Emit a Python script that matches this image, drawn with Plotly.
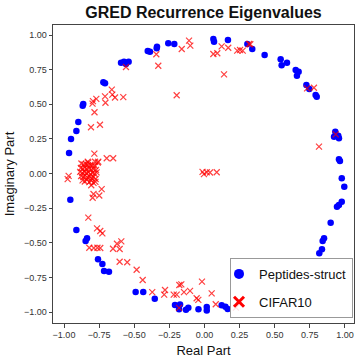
import plotly.graph_objects as go

# Peptides-struct eigenvalues (real, imaginary)
pep_real = [-0.258, -0.215, -0.338, -0.340, -0.404, -0.388, -0.594, -0.573, -0.540, -0.559,
            -0.720, -0.708, -0.863, -0.867, -0.898, -0.912, -0.950, -0.964,
            0.063, 0.068, 0.167, 0.305, 0.340, 0.428, 0.542, 0.549, 0.587, 0.649, 0.670, 0.658,
            0.725, 0.746, 0.791, 0.799, 0.931, 0.922, 0.957, 0.952, 0.957, 0.964,
            0.977, 0.995, 0.977, 0.957, 0.943, 0.898, 0.851, 0.841, 0.836, 0.817,
            -0.955, -0.912, -0.836, -0.846, -0.758, -0.727, -0.715, -0.680,
            -0.490, -0.436, -0.354, -0.210, -0.174, -0.181, -0.132, -0.115, -0.043,
            0.016, 0.016, 0.122, 0.149, 0.165]
pep_imag = [0.940, 0.935, 0.916, 0.904, 0.884, 0.879, 0.800, 0.807, 0.807, 0.791,
            0.658, 0.651, 0.502, 0.490, 0.372, 0.307, 0.249, 0.148,
            0.971, 0.952, 0.964, 0.935, 0.899, 0.856, 0.825, 0.781, 0.800, 0.747, 0.735, 0.706,
            0.639, 0.610, 0.567, 0.555, 0.302, 0.266, 0.254, 0.273, 0.103, 0.090,
            -0.035, -0.095, -0.204, -0.227, -0.240, -0.355, -0.468, -0.487, -0.547, -0.576,
            -0.189, -0.408, -0.468, -0.487, -0.619, -0.653, -0.704, -0.709,
            -0.856, -0.856, -0.904, -0.949, -0.946, -0.981, -0.983, -0.969, -0.981,
            -0.964, -0.989, -0.952, -0.962, -0.978]

# CIFAR10 eigenvalues (real, imaginary)
cif_real = [-0.110, -0.101, -0.162, -0.343, -0.329, -0.559, -0.198, -0.660, -0.656, -0.637,
            -0.578, -0.708, -0.705, -0.770, -0.794, -0.797, -0.783, -0.808, -0.744, -0.784,
            -0.696, -0.650, -0.756, -0.779, -0.831, -0.827, -0.760,
            0.063, 0.091, 0.122, 0.169, 0.233, 0.253, 0.272, 0.317, 0.326, 0.139, 0.730, 0.779,
            0.934, 0.815,
            -0.014, -0.004, 0.016, 0.039, 0.087,
            -0.967, -0.974, -0.806, -0.732, -0.790, -0.749, -0.796, -0.827, -0.765, -0.742,
            -0.727, -0.820, -0.788, -0.762, -0.742, -0.651, -0.623, -0.592, -0.604, -0.604,
            -0.550, -0.483, -0.440, -0.372, -0.281, -0.287, -0.219, -0.198, -0.179, -0.165,
            -0.146, -0.103, -0.056, -0.044, -0.018, -0.181, 0.051, 0.080, 0.224,
            -0.876, -0.861, -0.845, -0.830, -0.812, -0.795, -0.779,
            -0.880, -0.866, -0.851, -0.838, -0.822, -0.806, -0.790, -0.772,
            -0.885, -0.870, -0.856, -0.842, -0.827, -0.813, -0.798, -0.783, -0.768,
            -0.878, -0.863, -0.848, -0.834, -0.819, -0.804, -0.789, -0.775,
            -0.868, -0.852, -0.836, -0.820, -0.805, -0.790, -0.776]
cif_imag = [0.959, 0.923, 0.899, 0.861, 0.778, 0.769, 0.565, 0.606, 0.569, 0.549,
            0.552, 0.557, 0.511, 0.539, 0.522, 0.504, 0.442, 0.334, 0.352, 0.143,
            0.110, 0.110, 0.085, 0.085, 0.085, 0.078, 0.078,
            0.863, 0.868, 0.918, 0.908, 0.887, 0.892, 0.887, 0.935, 0.933, 0.716, 0.615, 0.619,
            0.283, 0.194,
            0.012, -0.004, 0.009, 0.007, 0.009,
            -0.017, -0.041, -0.085, -0.113, -0.148, -0.159, -0.175, -0.319, -0.396, -0.415,
            -0.432, -0.536, -0.538, -0.536, -0.538, -0.543, -0.507, -0.490, -0.545, -0.637,
            -0.641, -0.695, -0.769, -0.856, -0.841, -0.875, -0.875, -0.875, -0.805, -0.800,
            -0.856, -0.848, -0.901, -0.913, -0.781, -0.970, -0.866, -0.944, -0.968,
            0.072, 0.066, 0.069, 0.060, 0.063, 0.058, 0.054,
            0.040, 0.035, 0.044, 0.030, 0.038, 0.028, 0.033, 0.026,
            0.012, 0.005, 0.016, 0.002, 0.010, -0.004, 0.006, -0.002, 0.008,
            -0.018, -0.025, -0.014, -0.030, -0.020, -0.034, -0.024, -0.040,
            -0.050, -0.058, -0.045, -0.062, -0.052, -0.068, -0.060]

tick_vals = [-1.0, -0.75, -0.5, -0.25, 0.0, 0.25, 0.5, 0.75, 1.0]

FONT = "Liberation Sans, Arial, Helvetica, sans-serif"

fig = go.Figure()
fig.add_trace(go.Scatter(x=pep_real, y=pep_imag, mode="markers", showlegend=False,
                         marker=dict(symbol="circle", size=6.5, color="#0000ff",
                                     line=dict(width=0))))
fig.add_trace(go.Scatter(x=cif_real, y=cif_imag, mode="markers", showlegend=False,
                         marker=dict(symbol="x-thin", size=6,
                                     line=dict(width=1.2, color="rgba(255,0,0,0.75)"))))
# legend entries
fig.add_trace(go.Scatter(x=[None], y=[None], mode="markers", name="Peptides-struct",
                         legendgroup="a",
                         marker=dict(symbol="circle", size=10, color="#0000ff")))
fig.add_trace(go.Scatter(x=[None], y=[None], mode="markers", name="CIFAR10",
                         legendgroup="b",
                         marker=dict(symbol="x-thin", size=10,
                                     line=dict(width=3, color="#ff0000"))))

axis_common = dict(showline=True, mirror=True, linecolor="#444", linewidth=1,
                   ticks="outside", ticklen=3.5, tickwidth=1, tickcolor="#444",
                   showgrid=False, zeroline=False, tickvals=tick_vals, automargin=False,
                   tickformat=".2f", tickfont=dict(size=9, color="#333", family=FONT))

fig.update_layout(
    width=355, height=358,
    margin=dict(l=53, r=1, t=25, b=35),
    paper_bgcolor="white", plot_bgcolor="white",
    font=dict(family=FONT, color="#111"),
    title=dict(text="<b>GRED Recurrence Eigenvalues</b>", x=(53 + 354) / 2 / 355,
               xanchor="center", y=1 - 12.5 / 358, yanchor="middle",
               font=dict(size=16, color="#111", family=FONT)),
    xaxis=dict(range=[-1.0783, 1.0641],
               title=dict(text="Real Part", font=dict(size=13, family=FONT, color="#111"), standoff=8),
               **axis_common),
    yaxis=dict(range=[-1.0794, 1.0722],
               title=dict(text="Imaginary Part", font=dict(size=13, family=FONT, color="#111"), standoff=6),
               **axis_common),
    legend=dict(x=0.9967, xanchor="right", y=0.017, yanchor="bottom",
                bgcolor="rgba(255,255,255,0.85)", bordercolor="#999", borderwidth=1,
                font=dict(size=13, family=FONT, color="#111"),
                tracegroupgap=8, itemwidth=30, indentation=-12),
)

fig.write_html("out.html", config={"displayModeBar": False},
               post_script="document.body.style.margin='0';document.body.style.padding='0';")
